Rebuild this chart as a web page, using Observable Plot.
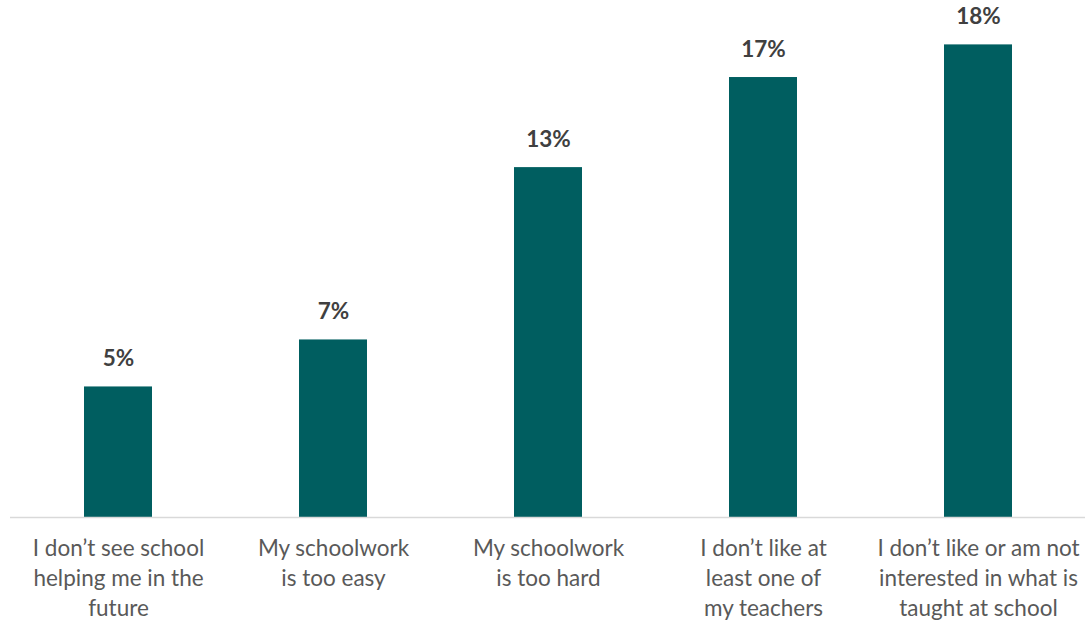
<!DOCTYPE html>
<html>
<head>
<meta charset="utf-8">
<script src="https://cdn.jsdelivr.net/npm/d3@7"></script>
<script src="https://cdn.jsdelivr.net/npm/@observablehq/plot@0.6"></script>
<style>
  html, body { margin: 0; padding: 0; background: #fff; }
  #chart svg { display: block; }
</style>
</head>
<body>
<div id="chart"></div>
<script>
const categories = [
  "I don’t see school\nhelping me in the\nfuture",
  "My schoolwork\nis too easy",
  "My schoolwork\nis too hard",
  "I don’t like at\nleast one of\nmy teachers",
  "I don’t like or am not\ninterested in what is\ntaught at school"
];
const values = [5.0, 6.8, 13.4, 16.85, 18.1];

const data = categories.map((c, i) => ({category: c, value: values[i], label: Math.round(values[i]) + "%"}));

const chart = Plot.plot({
  width: 1090,
  height: 620,
  marginTop: 0,
  marginLeft: 10,
  marginRight: 5,
  marginBottom: 103,
  style: {fontFamily: "Lato, 'Open Sans', sans-serif", fontSize: "22px", background: "#fff"},
  x: {domain: categories, paddingInner: 0.684, paddingOuter: 0.342, label: null},
  y: {domain: [0, 19.8], axis: null},
  marks: [
    Plot.barY(data, {x: "category", y: "value", fill: "#005e60"}),
    Plot.ruleY([0], {stroke: "#d9d9d9", strokeWidth: 1.5}),
    Plot.text(data, {x: "category", y: "value", text: "label", dy: -28, fill: "#404040", fontWeight: "bold", fontSize: 22.5}),
    Plot.axisX({tickSize: 0, tickPadding: 17, lineHeight: 1.333, fill: "#595959", fontSize: 22.5, lineAnchor: "top", label: null})
  ]
});
document.getElementById("chart").append(chart);
</script>
</body>
</html>
